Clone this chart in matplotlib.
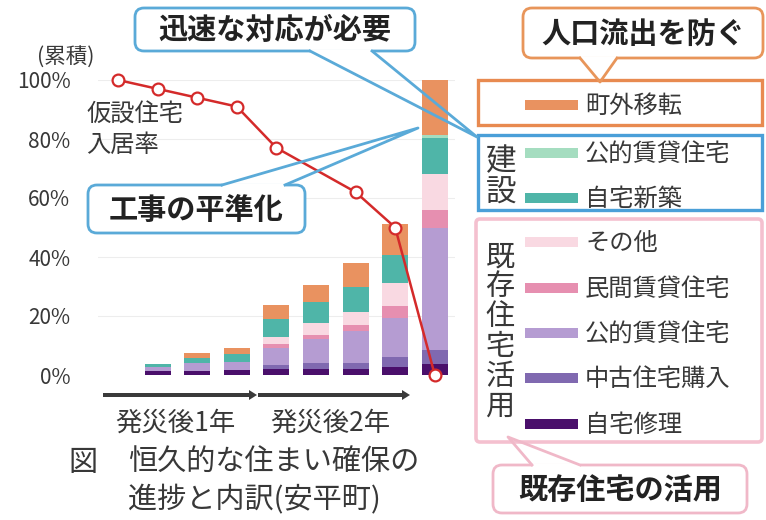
import numpy as np
import matplotlib.pyplot as plt
from matplotlib.patches import FancyBboxPatch, Rectangle, FancyArrow

plt.rcParams['font.family'] = ['Noto Sans CJK JP', 'DejaVu Sans']

# --- data (cumulative %) ---
bar_pos = [1, 2, 3, 4, 5, 6, 7, 8]
series_names = ['自宅修理', '中古住宅購入', '公的賃貸住宅', '民間賃貸住宅', 'その他',
                '自宅新築', '公的賃貸住宅', '町外移転']
series_colors = ['#4A0F6B', '#8069B0', '#B59CD2', '#E68FB0', '#F9D9E2',
                 '#4FB5A8', '#A5DDC0', '#E99260']
jitaku_shuri = [1.5, 1.5, 1.6, 2.2, 2.2, 2.2, 2.8, 3.7]
chuko_konyu = [0.0, 0.0, 0.0, 1.1, 2.0, 2.0, 3.4, 4.7]
koteki_kizon = [1.3, 2.7, 2.8, 6.0, 7.9, 10.6, 13.0, 41.3]
minkan = [0.0, 0.0, 0.0, 1.1, 1.4, 2.0, 4.3, 6.2]
sonota = [0.0, 0.0, 0.0, 2.5, 4.2, 4.4, 7.8, 12.4]
jitaku_shinchiku = [1.0, 1.7, 2.8, 6.2, 7.1, 8.5, 9.4, 11.9]
koteki_kensetsu = [0.0, 0.0, 0.0, 0.0, 0.0, 0.0, 0.0, 1.1]
chogai = [0.0, 1.4, 2.1, 4.5, 5.6, 8.4, 10.5, 18.7]
series_values = [jitaku_shuri, chuko_konyu, koteki_kizon, minkan, sonota,
                 jitaku_shinchiku, koteki_kensetsu, chogai]

line_pos = [0, 1, 2, 3, 4, 6, 7, 8]
kasetsu_rate = [100, 97, 94, 91, 77, 62, 50, 0]

yticks = [0, 20, 40, 60, 80, 100]

fig = plt.figure(figsize=(7.66, 5.2), dpi=100)
W, H = 766, 520

# main chart axes (pixel layout from the reference)
ax = fig.add_axes([98.2 / W, (H - 375) / H, 356.4 / W, 295 / H])
ax.set_xlim(-0.5, 8.5)
ax.set_ylim(0, 100)
for s in ax.spines.values():
    s.set_visible(False)
ax.set_xticks([])
ax.set_yticks(yticks)
ax.set_yticklabels([f'{v}%' for v in yticks], fontsize=15, color='#383838')
ax.tick_params(axis='y', length=0, pad=20)
for v in yticks[1:]:
    ax.axhline(v, color='#EDEDED', lw=0.8, zorder=0)

bottom = np.zeros(len(bar_pos))
for vals, col in zip(series_values, series_colors):
    ax.bar(bar_pos, vals, width=0.66, bottom=bottom, color=col, zorder=2)
    bottom += np.array(vals)

ax.plot(line_pos, kasetsu_rate, color='#D42A2A', lw=1.8, marker='o', ms=8.5,
        mfc='white', mec='#D42A2A', mew=1.6, zorder=4, clip_on=False)

# overlay in pixel coordinates for labels, callouts and legend
ov = fig.add_axes([0, 0, 1, 1], zorder=3)
ov.set_xlim(0, W)
ov.set_ylim(H, 0)
ov.axis('off')
ov.patch.set_alpha(0)

txt = '#383838'
ov.text(66, 57, '(累積)', fontsize=15.5, color=txt, ha='center', va='center')
ov.text(86, 115, '仮設住宅', fontsize=17.5, color=txt, ha='left', va='center')
ov.text(86, 145, '入居率', fontsize=17.5, color=txt, ha='left', va='center')

# time arrows
for x0, x1 in [(103, 257), (258, 410)]:
    ov.add_patch(FancyArrow(x0, 395, x1 - x0, 0, width=4, head_width=10,
                            head_length=8, length_includes_head=True,
                            color='#3A3A3A', lw=0))
ov.text(175, 423, '発災後1年', fontsize=19, color=txt, ha='center', va='center')
ov.text(330, 423, '発災後2年', fontsize=19, color=txt, ha='center', va='center')

ov.text(68, 463, '図', fontsize=21, color=txt, ha='left', va='center')
ov.text(128, 463, '恒久的な住まい確保の', fontsize=21, color=txt, ha='left', va='center')
ov.text(128, 500, '進捗と内訳(安平町)', fontsize=21, color=txt, ha='left', va='center')

# group frames
ov.add_patch(Rectangle((478, 80), 284, 45, fill=False, ec='#E88A50', lw=2.4))
ov.add_patch(Rectangle((478, 135), 284, 75, fill=False, ec='#4A9FD8', lw=2.4))
ov.add_patch(FancyBboxPatch((476, 219), 286, 223, boxstyle='round,pad=0,rounding_size=4',
                            fill=False, ec='#F4C0CF', lw=2.6))

ov.text(501, 162, '建', fontsize=22, color=txt, ha='center', va='center')
ov.text(501, 193, '設', fontsize=22, color=txt, ha='center', va='center')
for i, ch in enumerate('既存住宅活用'):
    ov.text(500, 257 + 30 * i, ch, fontsize=21, color=txt, ha='center', va='center')

# legend
legend_y = [105, 153, 198, 242, 288, 333, 378, 424]
for name, col, y in zip(series_names[::-1], series_colors[::-1], legend_y):
    ov.add_patch(Rectangle((525, y - 5), 53, 10, color=col, lw=0))
    ov.text(585, y + 1, name, fontsize=17.5, color=txt, ha='left', va='center')


def callout(x0, y0, x1, y1, label, color, base, apex):
    ov.add_patch(FancyBboxPatch((x0, y0), x1 - x0, y1 - y0,
                                boxstyle='round,pad=0,rounding_size=9',
                                fc='white', ec=color, lw=2.0, zorder=5))
    by = base[2]
    ov.plot([base[0], base[1]], [by, by], color='white', lw=3.5, zorder=6,
            solid_capstyle='butt')
    ov.plot([base[0], apex[0], base[1]], [by, apex[1], by], color=color, lw=2.0,
            zorder=6)
    ov.text((x0 + x1) / 2, (y0 + y1) / 2 + 1, label, fontsize=21, fontweight='bold',
            color='#222222', ha='center', va='center', zorder=7)


callout(135, 8, 415, 51, '迅速な対応が必要', '#5AAAD8', (310, 372, 51), (477, 137))
callout(88, 185, 305, 233, '工事の平準化', '#5AAAD8', (222, 285, 185), (418, 128))
callout(523, 8, 763, 58, '人口流出を防ぐ', '#E8955A', (580, 617, 58), (600, 82))
callout(493, 465, 747, 513, '既存住宅の活用', '#F0B8C8', (532, 580, 465), (508, 437))

fig.savefig('out.png', dpi=100)
